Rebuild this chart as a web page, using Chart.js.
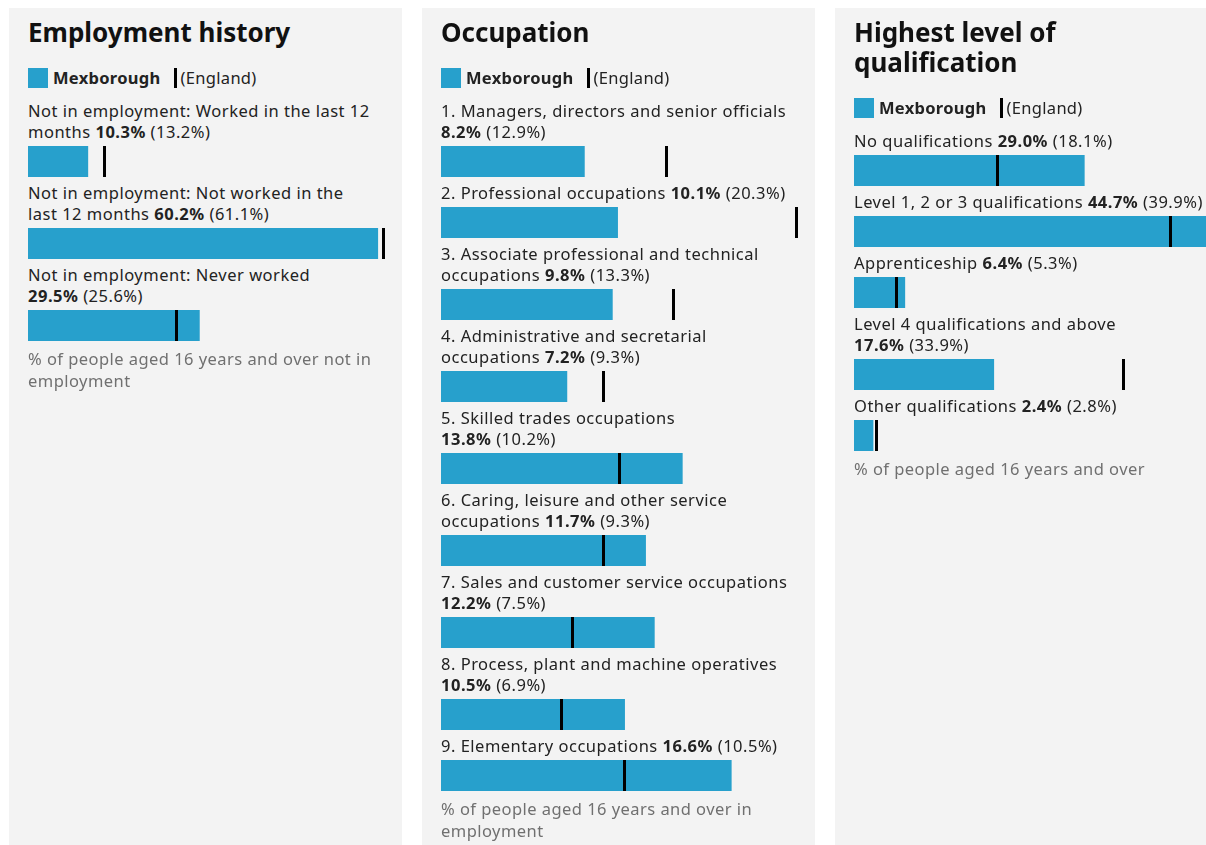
<!DOCTYPE html>
<html lang="en">
<head>
<meta charset="utf-8">
<title>Mexborough - work and qualifications</title>
<script src="https://cdn.jsdelivr.net/npm/chart.js@4.4.1/dist/chart.umd.min.js"></script>
<style>
  html, body { margin: 0; padding: 0; background: #fff; overflow: hidden; }
  body { font-family: "Noto Sans", "Open Sans", sans-serif; color: #222; }
  .paneles { display: flex; gap: 20px; padding: 8px 0 0 9px; width: 1300px; }
  .panel { box-sizing: border-box; width: 393px; min-height: 900px; flex: none;
           background: #f3f3f3; padding: 9px 19px 20px 19px; }
  .panel h2 { margin: 0; font-size: 26px; line-height: 30px; font-weight: 700; color: #111; }
  .leyenda { display: flex; align-items: center; height: 20px; margin-top: 21px;
             font-size: 16.5px; line-height: 20px; letter-spacing: 0.3px; }
  .leyenda .cuadro { width: 20px; height: 20px; background: #27a0cc; margin-right: 5px; }
  .leyenda .nombre { font-weight: 700; margin-right: 13px; }
  .leyenda .marca { width: 3px; height: 20px; background: #000; margin-right: 4px; }
  .filas { margin-top: 12px; }
  .etiqueta { font-size: 16.5px; line-height: 21px; letter-spacing: 0.5px; }
  .etiqueta div { white-space: nowrap; }
  .etiqueta b { font-weight: 700; }
  .barra { width: 357px; height: 31px; margin: 4px 0 5px 0; }
  .nota { margin-top: 7px; font-size: 16.5px; line-height: 22px; letter-spacing: 0.45px; color: #707070; }
  .nota div { white-space: nowrap; }
</style>
</head>
<body>
<div class="paneles" id="paneles"></div>

<script>
const areaName = 'Mexborough';
const compareName = 'England';

// labels split into lines as they wrap in the original; '' = values on their own line
const employmentLabels = [
  ['Not in employment: Worked in the last 12', 'months'],
  ['Not in employment: Not worked in the', 'last 12 months'],
  ['Not in employment: Never worked', '']
];
const employmentLocal = [10.3, 60.2, 29.5];
const employmentEngland = [13.2, 61.1, 25.6];
const employmentNote = ['% of people aged 16 years and over not in', 'employment'];

const occupationLabels = [
  ['1. Managers, directors and senior officials', ''],
  ['2. Professional occupations'],
  ['3. Associate professional and technical', 'occupations'],
  ['4. Administrative and secretarial', 'occupations'],
  ['5. Skilled trades occupations', ''],
  ['6. Caring, leisure and other service', 'occupations'],
  ['7. Sales and customer service occupations', ''],
  ['8. Process, plant and machine operatives', ''],
  ['9. Elementary occupations']
];
const occupationLocal = [8.2, 10.1, 9.8, 7.2, 13.8, 11.7, 12.2, 10.5, 16.6];
const occupationEngland = [12.9, 20.3, 13.3, 9.3, 10.2, 9.3, 7.5, 6.9, 10.5];
const occupationNote = ['% of people aged 16 years and over in', 'employment'];

const qualificationLabels = [
  ['No qualifications'],
  ['Level 1, 2 or 3 qualifications'],
  ['Apprenticeship'],
  ['Level 4 qualifications and above', ''],
  ['Other qualifications']
];
const qualificationLocal = [29.0, 44.7, 6.4, 17.6, 2.4];
const qualificationEngland = [18.1, 39.9, 5.3, 33.9, 2.8];
const qualificationNote = ['% of people aged 16 years and over'];

const colorBarra = '#27a0cc';
const colorMarca = '#000000';

// England value drawn as a vertical tick over the bar
const marcaEngland = {
  id: 'marcaEngland',
  afterDatasetsDraw(chart, args, opts) {
    const ctx = chart.ctx;
    const x = chart.scales.x.getPixelForValue(opts.value);
    const area = chart.chartArea;
    ctx.save();
    ctx.fillStyle = colorMarca;
    ctx.fillRect(Math.round(x - 1.5), area.top, 3, area.bottom - area.top);
    ctx.restore();
  }
};

function fmt(v) {
  return v.toFixed(1) + '%';
}

function crearBarra(contenedor, etiqueta, valor, england, maximo) {
  const canvas = document.createElement('canvas');
  canvas.width = 357;
  canvas.height = 31;
  canvas.className = 'barra';
  contenedor.appendChild(canvas);

  new Chart(canvas.getContext('2d'), {
    type: 'bar',
    data: {
      labels: [etiqueta],
      datasets: [{
        label: areaName,
        data: [valor],
        backgroundColor: colorBarra,
        borderWidth: 0,
        barPercentage: 1,
        categoryPercentage: 1
      }]
    },
    options: {
      indexAxis: 'y',
      responsive: false,
      animation: false,
      events: [],
      layout: { padding: { left: 0, right: 2, top: 0, bottom: 0 } },
      scales: {
        x: { display: false, min: 0, max: maximo },
        y: { display: false }
      },
      plugins: {
        legend: { display: false },
        tooltip: { enabled: false },
        marcaEngland: { value: england }
      }
    },
    plugins: [marcaEngland]
  });
}

function crearPanel(titulo, etiquetas, local, england, nota) {
  const panel = document.createElement('div');
  panel.className = 'panel';
  panel.innerHTML =
    `<h2>${titulo}</h2>` +
    `<div class="leyenda"><span class="cuadro"></span><span class="nombre">${areaName}</span>` +
    `<span class="marca"></span><span>(${compareName})</span></div>` +
    `<div class="filas"></div>` +
    `<div class="nota">${nota.map(l => `<div>${l}</div>`).join('')}</div>`;
  document.getElementById('paneles').appendChild(panel);

  const filas = panel.querySelector('.filas');
  const maximo = Math.max(...local, ...england);

  etiquetas.forEach((lineas, i) => {
    const div = document.createElement('div');
    div.className = 'etiqueta';
    const valores = `<b>${fmt(local[i])}</b> (${fmt(england[i])})`;
    div.innerHTML = lineas.map((l, j) => {
      if (j < lineas.length - 1) return `<div>${l}</div>`;
      return `<div>${l ? l + ' ' : ''}${valores}</div>`;
    }).join('');
    filas.appendChild(div);
    crearBarra(filas, lineas.join(' ').trim(), local[i], england[i], maximo);
  });
}

crearPanel('Employment history', employmentLabels, employmentLocal, employmentEngland, employmentNote);
crearPanel('Occupation', occupationLabels, occupationLocal, occupationEngland, occupationNote);
crearPanel('Highest level of qualification', qualificationLabels, qualificationLocal, qualificationEngland, qualificationNote);
</script>
</body>
</html>
